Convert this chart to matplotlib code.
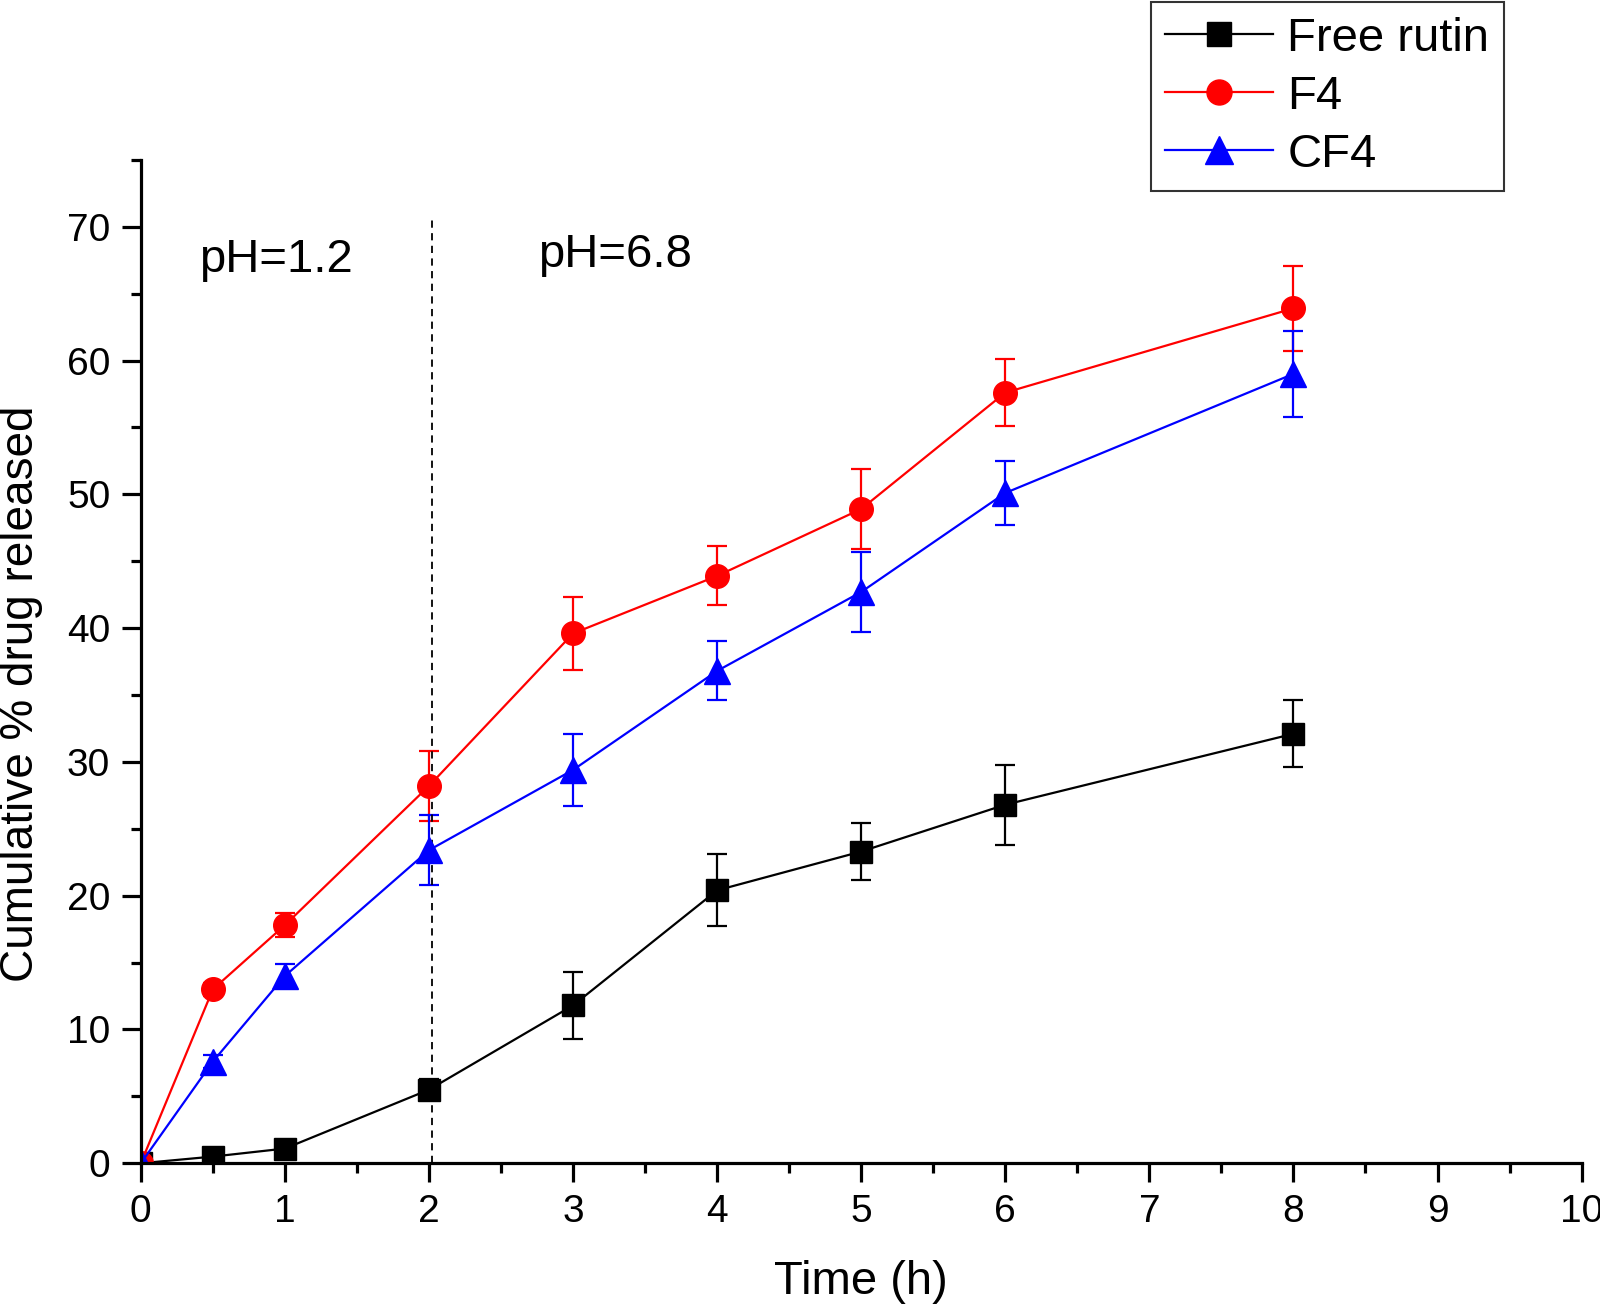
import numpy as np
import matplotlib
matplotlib.use("Agg")
import matplotlib.pyplot as plt
from matplotlib.ticker import MultipleLocator
from matplotlib.lines import Line2D

plt.rcParams['font.family'] = ['Liberation Sans', 'DejaVu Sans']

# time points (h)
time_h = [0, 0.5, 1, 2, 3, 4, 5, 6, 8]

# cumulative % drug released and error bars
free_rutin = [0, 0.5, 1.1, 5.5, 11.8, 20.4, 23.3, 26.8, 32.1]
free_rutin_err = [0, 0.3, 0.3, 0.8, 2.5, 2.7, 2.1, 3.0, 2.5]

f4 = [0, 13.0, 17.8, 28.2, 39.6, 43.9, 48.9, 57.6, 63.9]
f4_err = [0, 0.5, 0.9, 2.6, 2.7, 2.2, 3.0, 2.5, 3.2]

cf4 = [0, 7.6, 14.0, 23.4, 29.4, 36.8, 42.7, 50.1, 59.0]
cf4_err = [0, 0.5, 0.9, 2.6, 2.7, 2.2, 3.0, 2.4, 3.2]

series = [
    ("Free rutin", free_rutin, free_rutin_err, "black", "s", 16),
    ("F4", f4, f4_err, "#ff0000", "o", 17),
    ("CF4", cf4, cf4_err, "#0000ff", "^", 19),
]

fig = plt.figure(figsize=(16, 13.1), dpi=100)
ax = fig.add_axes([0.088, 0.112, 0.9005, 0.766])

handles = []
for name, vals, err, col, mk, ms in series:
    ax.errorbar(time_h, vals, yerr=err, color=col, marker=mk, markersize=ms,
                linewidth=1.6, elinewidth=1.6, capsize=7, capthick=1.6)
    handles.append(Line2D([], [], color=col, marker=mk, markersize=ms + 1,
                          linewidth=1.6, label=name))

# phase boundary
ax.plot([2.02, 2.02], [0, 70.7], color="black", linewidth=1.3,
        linestyle=(0, (4, 3)))
ax.text(0.94, 67.5, "pH=1.2", fontsize=34, ha="center", va="center")
ax.text(3.29, 67.9, "pH=6.8", fontsize=34, ha="center", va="center")

ax.set_xlim(0, 10)
ax.set_ylim(0, 75)
ax.xaxis.set_major_locator(MultipleLocator(1))
ax.xaxis.set_minor_locator(MultipleLocator(0.5))
ax.yaxis.set_minor_locator(MultipleLocator(5))
ax.set_yticks(np.arange(0, 71, 10))

for s in ["top", "right"]:
    ax.spines[s].set_visible(False)
for s in ["left", "bottom"]:
    ax.spines[s].set_linewidth(2.3)

ax.tick_params(which="major", direction="out", length=14, width=2.3,
               labelsize=28, pad=8)
ax.tick_params(which="minor", direction="out", length=7, width=2.3)

ax.set_xlabel("Time (h)", fontsize=34, labelpad=22)
ax.set_ylabel("Cumulative % drug released", fontsize=33)
ax.yaxis.set_label_coords(-0.068, 0.468)

leg = fig.legend(handles=handles, loc="upper right",
                 bbox_to_anchor=(1506 / 1600, 1.0),
                 fontsize=34, frameon=True, fancybox=False, handlelength=2.3,
                 handletextpad=0.3, labelspacing=0.3, borderpad=0.3,
                 borderaxespad=0.05)
leg.get_frame().set_edgecolor("black")
leg.get_frame().set_linewidth(1.5)

fig.savefig("out.png", dpi=100, facecolor="white")
